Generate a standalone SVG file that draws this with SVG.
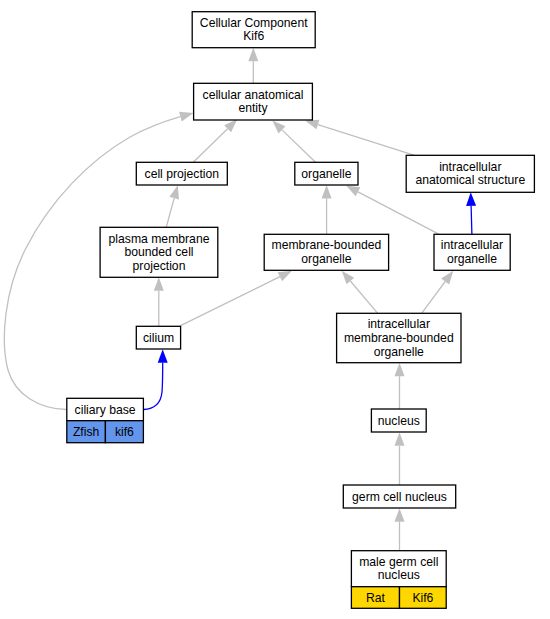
<svg xmlns="http://www.w3.org/2000/svg" width="550" height="619" viewBox="0 0 550 619">
<style>
.n rect{fill:#fff;stroke:#000;stroke-width:1.3}
text{font-family:"Liberation Sans",Arial,sans-serif;font-size:12.2px;fill:#000;text-anchor:middle}
.e{fill:none;stroke:#C0C0C0;stroke-width:1.3}
.b{fill:none;stroke:#0000FF;stroke-width:1.3}
rect.z{fill:#6495ED}
rect.g{fill:#FFD700}
</style>
<defs>
<marker id="ag" markerUnits="userSpaceOnUse" markerWidth="14" markerHeight="10" refX="0" refY="5" orient="auto" overflow="visible"><path d="M0,0 L13.5,5 L0,10 z" fill="#C0C0C0"/></marker>
<marker id="ab" markerUnits="userSpaceOnUse" markerWidth="14" markerHeight="10" refX="0" refY="5" orient="auto" overflow="visible"><path d="M0,0 L13.5,5 L0,10 z" fill="#0000FF"/></marker>
</defs>
<rect width="550" height="619" fill="#fff"/>
<g id="edges">
<path class="e" marker-end="url(#ag)" d="M253.3,83.3 L253.3,61.2"/>
<path class="e" marker-end="url(#ag)" d="M193.3,162.3 L227.6,128.7"/>
<path class="e" marker-end="url(#ag)" d="M315.5,162.3 L282,129.9"/>
<path class="e" marker-end="url(#ag)" d="M414.6,155.3 L317.9,124.6"/>
<path class="e" marker-end="url(#ag)" d="M66.5,409.5 C40,409 15,395 8,370 C0,340 5,290 25,250 C50,200 90,160 130,137 C148,127 165,121 180.4,116.6"/>
<path class="b" marker-end="url(#ab)" d="M471.9,234.3 L471.1,205.8"/>
<path class="b" marker-end="url(#ab)" d="M143.5,409.5 C155,409 161,402 162,392 C162.6,384 162.7,375 162.7,362.8"/>
<path class="e" marker-end="url(#ag)" d="M166.2,227.3 L174.2,198.2"/>
<path class="e" marker-end="url(#ag)" d="M326.6,234.3 L326.6,198.5"/>
<path class="e" marker-end="url(#ag)" d="M439.2,234.3 L358,191.8"/>
<path class="e" marker-end="url(#ag)" d="M158.8,326.3 L158.8,290.8"/>
<path class="e" marker-end="url(#ag)" d="M180.6,325.7 L279.9,276.7"/>
<path class="e" marker-end="url(#ag)" d="M377.7,313.3 L350.4,281"/>
<path class="e" marker-end="url(#ag)" d="M421.6,313.3 L445.2,281.5"/>
<path class="e" marker-end="url(#ag)" d="M399.5,409 L399.5,376.2"/>
<path class="e" marker-end="url(#ag)" d="M399.5,485 L399.5,445.8"/>
<path class="e" marker-end="url(#ag)" d="M399.5,550.7 L399.5,521.8"/>
</g>
<g id="cc" class="n"><rect x="192.2" y="11.7" width="123" height="36"/><text x="253.7" y="26.6">Cellular Component</text><text x="253.7" y="40.3">Kif6</text></g>
<g id="cae" class="n"><rect x="193.6" y="83.3" width="118.8" height="36.7"/><text x="253" y="98.6">cellular anatomical</text><text x="253" y="112.3">entity</text></g>
<g id="cp" class="n"><rect x="136.3" y="162.3" width="91" height="22.7"/><text x="181.8" y="178">cell projection</text></g>
<g id="org" class="n"><rect x="294.8" y="162.3" width="63.2" height="22.7"/><text x="326.4" y="178">organelle</text></g>
<g id="ias" class="n"><rect x="406.2" y="155.3" width="128.2" height="37"/><text x="470.3" y="170.7">intracellular</text><text x="470.3" y="184.4">anatomical structure</text></g>
<g id="pmbcp" class="n"><rect x="100.1" y="227.3" width="117.7" height="50"/><text x="159" y="242.7">plasma membrane</text><text x="159" y="256.4">bounded cell</text><text x="159" y="270.1">projection</text></g>
<g id="mbo" class="n"><rect x="264.2" y="234.3" width="124.4" height="36"/><text x="326.4" y="249.2">membrane-bounded</text><text x="326.4" y="262.9">organelle</text></g>
<g id="io" class="n"><rect x="434" y="234.3" width="76.2" height="36"/><text x="472" y="249.2">intracellular</text><text x="472" y="262.9">organelle</text></g>
<g id="cilium" class="n"><rect x="136.3" y="326.3" width="44.3" height="22.7"/><text x="158.5" y="342">cilium</text></g>
<g id="imbo" class="n"><rect x="336.6" y="313.3" width="124.4" height="49.4"/><text x="398.8" y="328.4">intracellular</text><text x="398.8" y="342.1">membrane-bounded</text><text x="398.8" y="355.8">organelle</text></g>
<g id="cb" class="n"><rect x="66.8" y="398.3" width="76.6" height="22.4"/><rect class="z" x="66.8" y="420.7" width="38.6" height="22"/><rect class="z" x="105.4" y="420.7" width="38" height="22"/><text x="105.1" y="413.8">ciliary base</text><text x="86.1" y="436">Zfish</text><text x="124.4" y="436">kif6</text></g>
<g id="nuc" class="n"><rect x="371.4" y="409" width="54.8" height="23"/><text x="398.8" y="424.8">nucleus</text></g>
<g id="gcn" class="n"><rect x="343.3" y="485" width="112.4" height="23"/><text x="399.5" y="500.8">germ cell nucleus</text></g>
<g id="mgcn" class="n"><rect x="351.4" y="550.7" width="94.8" height="36"/><rect class="g" x="351.4" y="586.7" width="48.1" height="21.6"/><rect class="g" x="399.5" y="586.7" width="46.7" height="21.6"/><text x="398.8" y="565.6">male germ cell</text><text x="398.8" y="579.3">nucleus</text><text x="375.5" y="601.8">Rat</text><text x="422.9" y="601.8">Kif6</text></g>
</svg>
